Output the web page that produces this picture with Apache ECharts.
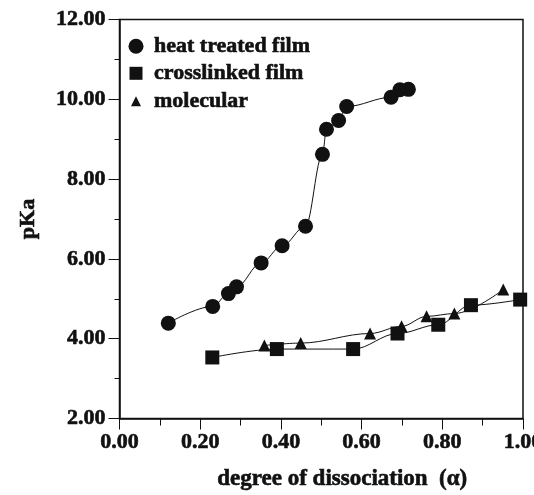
<!DOCTYPE html>
<html>
<head>
<meta charset="utf-8">
<script src="https://cdn.jsdelivr.net/npm/echarts@6/dist/echarts.min.js"></script>
<style>
  html, body { margin: 0; padding: 0; background: #fff; }
  #chart { width: 534px; height: 495px; }
</style>
</head>
<body>
<div id="chart"></div>
<script>
// pKa versus degree of dissociation for three sample types
const heatAlpha = [0.121, 0.231, 0.270, 0.290, 0.351, 0.403, 0.461, 0.503, 0.513, 0.543, 0.563, 0.673, 0.695, 0.716];
const heatPKa   = [4.39, 4.81, 5.13, 5.30, 5.90, 6.33, 6.82, 8.62, 9.25, 9.47, 9.82, 10.05, 10.24, 10.25];

const crossAlpha = [0.230, 0.390, 0.579, 0.689, 0.790, 0.871, 0.993];
const crossPKa   = [3.53, 3.74, 3.74, 4.13, 4.35, 4.84, 4.98];

const molAlpha = [0.359, 0.449, 0.621, 0.699, 0.761, 0.830, 0.951];
const molPKa   = [3.83, 3.89, 4.13, 4.31, 4.56, 4.63, 5.23];

const seriesNames = ['heat treated film', 'crosslinked film', 'molecular'];

const pairs = (xs, ys) => xs.map((x, i) => [x, ys[i]]);

const FONT = '"Liberation Serif", "Times New Roman", serif';
const INK = '#111';

// heavy bold type: a thin outline in the same ink thickens the strokes
const heavy = { fontFamily: FONT, fontWeight: 'bold', color: INK, textBorderColor: INK, textBorderWidth: 0.6 };

const lineStyle = { color: INK, width: 1 };

function legendFor(name, icon, size, top) {
  return {
    data: [{ name: name, icon: icon }],
    left: 136 - size / 2,
    top: top,
    itemWidth: size,
    itemHeight: size,
    itemGap: 0,
    padding: 0,
    selectedMode: false,
    textStyle: Object.assign({}, heavy, { fontSize: 22, padding: [0, 0, 0, 18 - size / 2 - 5] })
  };
}

const chart = echarts.init(document.getElementById('chart'), null, { renderer: 'canvas' });

chart.setOption({
  animation: false,
  backgroundColor: '#fff',
  grid: {
    left: 119.5, right: 11, top: 19.5, bottom: 76.5,
    outerBoundsMode: 'none', containLabel: false,
    show: true, borderColor: INK, borderWidth: 1.5, backgroundColor: 'transparent'
  },
  legend: [
    legendFor(seriesNames[0], 'circle', 15, 35),
    legendFor(seriesNames[1], 'rect', 13, 62),
    legendFor(seriesNames[2], 'triangle', 10, 90)
  ],
  xAxis: {
    type: 'value', min: 0, max: 1, interval: 0.2,
    name: 'degree of dissociation  (\u03B1)',
    nameLocation: 'middle', nameGap: 49,
    nameTextStyle: Object.assign({}, heavy, { fontSize: 23, padding: [0, 0, 0, 42] }),
    axisLine: { lineStyle: { color: INK, width: 1.5 } },
    axisTick: { length: 11, lineStyle: { color: INK, width: 1 } },
    minorTick: { show: true, splitNumber: 2, length: 7, lineStyle: { color: INK, width: 1 } },
    splitLine: { show: false },
    axisLabel: Object.assign({}, heavy, {
      margin: 13, fontSize: 22,
      formatter: v => v.toFixed(2)
    })
  },
  yAxis: {
    type: 'value', min: 2, max: 12, interval: 2,
    name: 'pKa',
    nameLocation: 'middle', nameGap: 80,
    nameTextStyle: Object.assign({}, heavy, { fontSize: 22 }),
    axisLine: { lineStyle: { color: INK, width: 1.5 } },
    axisTick: { length: 11, lineStyle: { color: INK, width: 1 } },
    minorTick: { show: true, splitNumber: 2, length: 5, lineStyle: { color: INK, width: 1 } },
    splitLine: { show: false },
    axisLabel: Object.assign({}, heavy, {
      margin: 14, fontSize: 22,
      formatter: v => v.toFixed(2)
    })
  },
  series: [
    {
      name: seriesNames[0], type: 'line', data: pairs(heatAlpha, heatPKa),
      smooth: 0.35, smoothMonotone: 'x',
      symbol: 'circle', symbolSize: 15,
      itemStyle: { color: INK }, lineStyle: lineStyle, z: 3
    },
    {
      name: seriesNames[2], type: 'line', data: pairs(molAlpha, molPKa),
      smooth: 0.35, smoothMonotone: 'x',
      symbol: 'triangle', symbolSize: 12,
      itemStyle: { color: INK }, lineStyle: lineStyle, z: 3
    },
    {
      name: seriesNames[1], type: 'line', data: pairs(crossAlpha, crossPKa),
      smooth: 0.35, smoothMonotone: 'x',
      symbol: 'rect', symbolSize: 14,
      itemStyle: { color: INK }, lineStyle: lineStyle, z: 4
    }
  ]
});
</script>
</body>
</html>
